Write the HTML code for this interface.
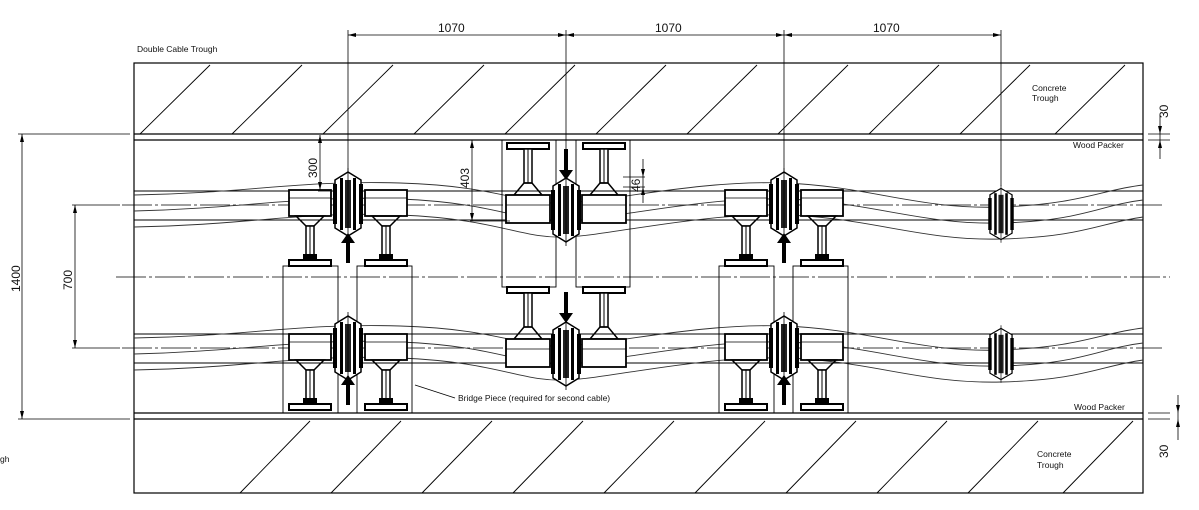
<!DOCTYPE html>
<html><head><meta charset="utf-8"><style>
html,body{margin:0;padding:0;background:#fff;}
svg{display:block;}
text{font-family:"Liberation Sans",sans-serif;fill:#111;}
</style></head><body>
<svg width="1199" height="510" viewBox="0 0 1199 510" xmlns="http://www.w3.org/2000/svg">
<defs>
<g id="hex">
 <polygon points="-13,-24 0,-32 13,-24 13,24 0,32 -13,24" fill="#fff" stroke="#000" stroke-width="1.5"/>
 <rect x="-15" y="-20" width="4" height="40" fill="#000"/>
 <rect x="11" y="-20" width="4" height="40" fill="#000"/>
 <rect x="-8" y="-26" width="3" height="52" fill="#000"/>
 <rect x="5" y="-26" width="3" height="52" fill="#000"/>
 <rect x="-3" y="-24" width="6" height="48" fill="#222"/>
 <line x1="0" y1="-36" x2="0" y2="36" stroke="#000" stroke-width="0.8"/>
</g>
<g id="sideDown">
 <rect x="-21" y="0" width="42" height="26" fill="#fff" stroke="#000" stroke-width="1.8"/>
 <line x1="-21" y1="8" x2="21" y2="8" stroke="#000" stroke-width="0.8"/>
 <polygon points="-14,26 14,26 4,36 -4,36" fill="none" stroke="#000" stroke-width="1.5"/>
 <rect x="-4" y="36" width="8" height="34" fill="#fff" stroke="#000" stroke-width="1.5"/>
 <line x1="0" y1="36" x2="0" y2="70" stroke="#000" stroke-width="1"/>
 <rect x="-7" y="64" width="14" height="6" fill="#000"/>
 <rect x="-21" y="70" width="42" height="6" fill="#fff" stroke="#000" stroke-width="2"/>
</g>
<g id="sideUp">
 <rect x="-21" y="0" width="42" height="6" fill="#fff" stroke="#000" stroke-width="2"/>
 <rect x="-4" y="6" width="8" height="34" fill="#fff" stroke="#000" stroke-width="1.5"/>
 <line x1="0" y1="6" x2="0" y2="40" stroke="#000" stroke-width="1"/>
 <polygon points="-4,40 4,40 14,52 -14,52" fill="none" stroke="#000" stroke-width="1.5"/>
 <rect x="-22" y="52" width="44" height="28" fill="#fff" stroke="#000" stroke-width="1.8"/>
 <line x1="-22" y1="62" x2="22" y2="62" stroke="#000" stroke-width="0.8"/>
</g>
<g id="band">
 <line x1="134" y1="-14" x2="1143" y2="-14" stroke="#000" stroke-width="1"/>
 <line x1="134" y1="15" x2="1143" y2="15" stroke="#000" stroke-width="1"/>
 <path d="M134,-10 C250,-12 300,-25 400,-22 S520,0 566,-2 S700,-25 784,-22 S920,5 1001,2 S1100,-15 1143,-20" fill="none" stroke="#333" stroke-width="0.9"/>
 <path d="M134,6 C250,3 300,-10 400,-6 S520,18 566,16 S700,-8 784,-6 S920,20 1001,18 S1100,0 1143,-5" fill="none" stroke="#333" stroke-width="0.9"/>
 <path d="M134,22 C250,20 300,6 400,10 S520,34 566,32 S700,8 784,10 S920,36 1001,34 S1100,18 1143,12" fill="none" stroke="#333" stroke-width="0.9"/>
</g>
</defs>

<!-- outer -->
<rect x="134" y="63" width="1009" height="430" fill="none" stroke="#000" stroke-width="1.2"/>
<line x1="134" y1="134" x2="1143" y2="134" stroke="#000" stroke-width="1.2"/>
<line x1="134" y1="140" x2="1143" y2="140" stroke="#000" stroke-width="1.2"/>
<line x1="134" y1="413" x2="1143" y2="413" stroke="#000" stroke-width="1.2"/>
<line x1="134" y1="419" x2="1143" y2="419" stroke="#000" stroke-width="1.2"/>
<!-- hatch top -->
<g stroke="#000" stroke-width="0.9">
<line x1="140" y1="134" x2="210" y2="65"/><line x1="232" y1="134" x2="302" y2="65"/><line x1="323" y1="134" x2="393" y2="65"/><line x1="414" y1="134" x2="484" y2="65"/><line x1="505" y1="134" x2="575" y2="65"/><line x1="596" y1="134" x2="666" y2="65"/><line x1="687" y1="134" x2="757" y2="65"/><line x1="778" y1="134" x2="848" y2="65"/><line x1="869" y1="134" x2="939" y2="65"/><line x1="960" y1="134" x2="1030" y2="65"/><line x1="1055" y1="134" x2="1125" y2="65"/>
<line x1="240" y1="493" x2="310" y2="421"/><line x1="331" y1="493" x2="401" y2="421"/><line x1="422" y1="493" x2="492" y2="421"/><line x1="513" y1="493" x2="583" y2="421"/><line x1="604" y1="493" x2="674" y2="421"/><line x1="695" y1="493" x2="765" y2="421"/><line x1="786" y1="493" x2="856" y2="421"/><line x1="877" y1="493" x2="947" y2="421"/><line x1="968" y1="493" x2="1038" y2="421"/><line x1="1063" y1="493" x2="1133" y2="421"/>
</g>
<!-- centerlines -->
<g stroke="#000" stroke-width="0.8" stroke-dasharray="30,3,3,3">
<line x1="116" y1="277" x2="1170" y2="277"/>
<line x1="122" y1="205" x2="1162" y2="205"/>
<line x1="122" y1="348" x2="1162" y2="348"/>
</g>
<use href="#band" transform="translate(0,205)"/>
<use href="#band" transform="translate(0,348)"/>
<!-- bridge pieces -->
<g fill="none" stroke="#000" stroke-width="0.9">
<rect x="283" y="266" width="55" height="147"/><rect x="357" y="266" width="55" height="147"/>
<rect x="719" y="266" width="55" height="147"/><rect x="793" y="266" width="55" height="147"/>
<rect x="502" y="140" width="54" height="147"/><rect x="576" y="140" width="54" height="147"/>
</g>
<!-- units -->
<use href="#sideDown" x="310" y="190"/><use href="#sideDown" x="386" y="190"/>
<use href="#sideDown" x="310" y="334"/><use href="#sideDown" x="386" y="334"/>
<use href="#sideDown" x="746" y="190"/><use href="#sideDown" x="822" y="190"/>
<use href="#sideDown" x="746" y="334"/><use href="#sideDown" x="822" y="334"/>
<use href="#sideUp" x="528" y="143"/><use href="#sideUp" x="604" y="143"/>
<use href="#sideUp" x="528" y="287"/><use href="#sideUp" x="604" y="287"/>
<use href="#hex" x="348" y="204"/><use href="#hex" x="348" y="348"/>
<use href="#hex" x="784" y="204"/><use href="#hex" x="784" y="348"/>
<use href="#hex" x="566" y="210"/><use href="#hex" x="566" y="354"/>
<use href="#hex" transform="translate(1001,214) scale(0.85,0.8)"/><use href="#hex" transform="translate(1001,354) scale(0.85,0.8)"/>
<!-- arrows -->
<g fill="#000">
<polygon points="348,233 341,243 346,243 346,263 350,263 350,243 355,243"/>
<polygon points="348,375 341,385 346,385 346,405 350,405 350,385 355,385"/>
<polygon points="784,233 777,243 782,243 782,263 786,263 786,243 791,243"/>
<polygon points="784,375 777,385 782,385 782,405 786,405 786,385 791,385"/>
<polygon points="566,180 559,170 564,170 564,149 568,149 568,170 573,170"/>
<polygon points="566,323 559,313 564,313 564,292 568,292 568,313 573,313"/>
</g>
<!-- dimensions -->
<g stroke="#000" stroke-width="0.8" fill="none">
<line x1="348" y1="35" x2="1001" y2="35"/>
<line x1="348" y1="30" x2="348" y2="172"/><line x1="566" y1="30" x2="566" y2="178"/><line x1="784" y1="30" x2="784" y2="172"/><line x1="1001" y1="30" x2="1001" y2="186"/>
<line x1="22" y1="134" x2="22" y2="419"/><line x1="18" y1="134" x2="130" y2="134"/><line x1="18" y1="419" x2="130" y2="419"/>
<line x1="75" y1="205" x2="75" y2="348"/><line x1="72" y1="205" x2="120" y2="205"/><line x1="72" y1="348" x2="120" y2="348"/>
<line x1="320" y1="135" x2="320" y2="190"/><line x1="318" y1="191" x2="330" y2="191"/>
<line x1="472" y1="140" x2="472" y2="221"/><line x1="470" y1="221" x2="510" y2="221"/>
<line x1="623" y1="177" x2="645" y2="177"/><line x1="623" y1="187" x2="645" y2="187"/><line x1="643" y1="159" x2="643" y2="203"/>
<line x1="1148" y1="134" x2="1170" y2="134"/><line x1="1148" y1="140" x2="1170" y2="140"/><line x1="1160" y1="115" x2="1160" y2="159"/>
<line x1="1148" y1="413" x2="1170" y2="413"/><line x1="1148" y1="419" x2="1170" y2="419"/><line x1="1178" y1="395" x2="1178" y2="440"/>
<line x1="415" y1="385" x2="455" y2="398"/>
</g>
<g fill="#000">
<polygon points="348,35 356,33 356,37"/><polygon points="566,35 558,33 558,37"/><polygon points="566,35 574,33 574,37"/><polygon points="784,35 776,33 776,37"/><polygon points="784,35 792,33 792,37"/><polygon points="1001,35 993,33 993,37"/>
<polygon points="22,134 20,142 24,142"/><polygon points="22,419 20,411 24,411"/>
<polygon points="75,205 73,213 77,213"/><polygon points="75,348 73,340 77,340"/>
<polygon points="320,135 318,143 322,143"/><polygon points="320,190 318,182 322,182"/>
<polygon points="472,140 470,148 474,148"/><polygon points="472,221 470,213 474,213"/>
<polygon points="643,177 641,169 645,169"/><polygon points="643,187 641,195 645,195"/>
<polygon points="1160,134 1158,126 1162,126"/><polygon points="1160,140 1158,148 1162,148"/>
<polygon points="1178,413 1176,405 1180,405"/><polygon points="1178,419 1176,427 1180,427"/>
</g>
<!-- text -->
<g font-size="12">
<text x="438" y="32">1070</text><text x="655" y="32">1070</text><text x="873" y="32">1070</text>
<text transform="translate(20,292) rotate(-90)" font-size="12">1400</text>
<text transform="translate(72,290) rotate(-90)">700</text>
<text transform="translate(317,178) rotate(-90)">300</text>
<text transform="translate(469,188) rotate(-90)">403</text>
<text transform="translate(640,192) rotate(-90)">46</text>
<text transform="translate(1168,118) rotate(-90)">30</text>
<text transform="translate(1168,458) rotate(-90)">30</text>
</g>
<g font-size="8.5">
<text x="137" y="52">Double Cable Trough</text>
<text x="1032" y="91">Concrete</text><text x="1032" y="101">Trough</text>
<text x="1037" y="457">Concrete</text><text x="1037" y="468">Trough</text>
<text x="1073" y="148">Wood Packer</text>
<text x="1074" y="410">Wood Packer</text>
<text x="458" y="401">Bridge Piece (required for second cable)</text>
<text x="0" y="462">gh</text>
</g>
</svg>
</body></html>
